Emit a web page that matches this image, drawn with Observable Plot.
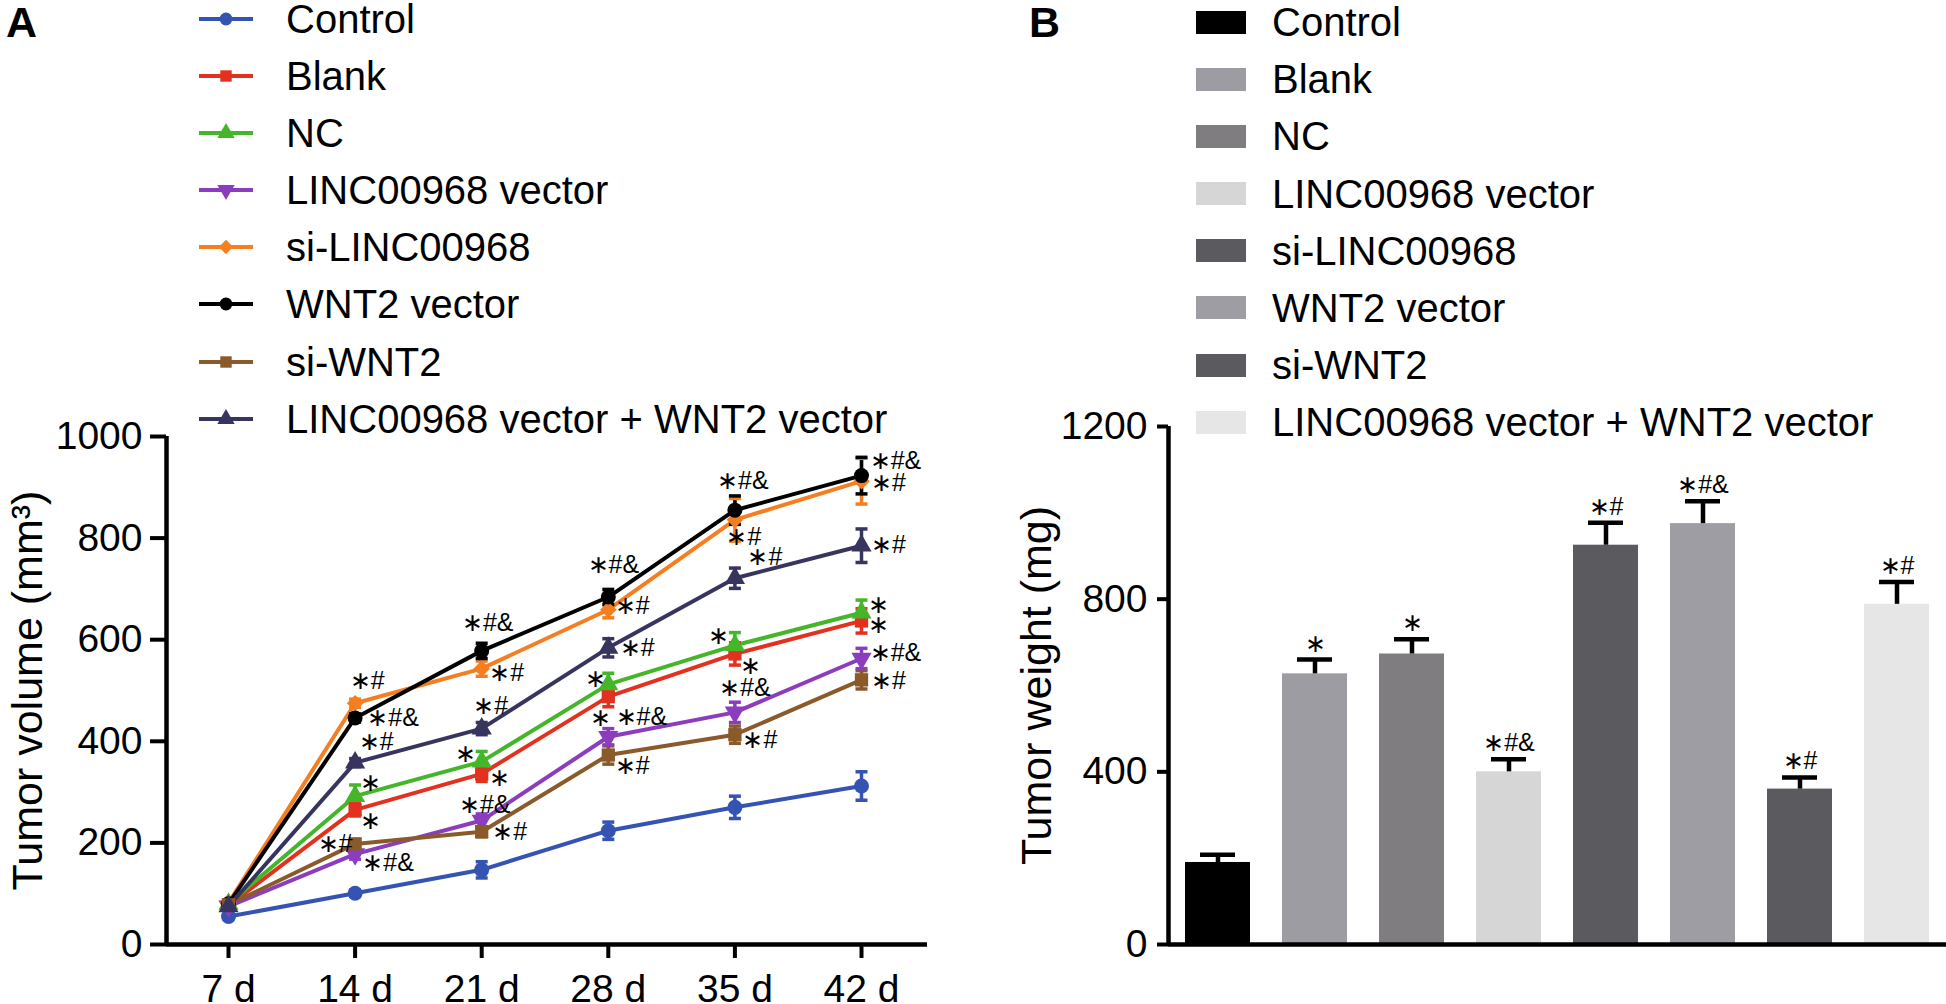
<!DOCTYPE html>
<html><head><meta charset="utf-8">
<script src="https://cdn.jsdelivr.net/npm/d3@7"></script>
<script src="https://cdn.jsdelivr.net/npm/@observablehq/plot@0.6"></script>
<style>
body{margin:0;background:#fff;}
#root{position:relative;width:1946px;height:1004px;overflow:hidden;font-family:"Liberation Sans",Arial,sans-serif;color:#000;}
.panel{position:absolute;top:0;}
.letter{position:absolute;font-weight:bold;font-size:43px;line-height:1;}
.legend{position:absolute;}
.row{display:flex;align-items:center;height:57.2px;font-size:40px;line-height:1;white-space:nowrap;}
.row svg{display:block;flex:none;}
</style></head><body><div id="root"></div>
<script>
// ---------- DATA ----------
const groups = ["Control","Blank","NC","LINC00968 vector","si-LINC00968","WNT2 vector","si-WNT2","LINC00968 vector + WNT2 vector"];
const days = [7,14,21,28,35,42];
const dayLabels = ["7 d","14 d","21 d","28 d","35 d","42 d"];

const volControl  = [55, 101, 147, 224, 270, 312];
const volBlank    = [77, 265, 336, 488, 572, 637];
const volNC       = [80, 292, 360, 512, 589, 653];
const volLincVec  = [75, 178, 244, 409, 457, 563];
const volSiLinc   = [82, 475, 543, 659, 836, 912];
const volWnt2     = [80, 446, 578, 684, 855, 923];
const volSiWnt2   = [78, 198, 222, 373, 413, 521];
const volLincWnt2 = [75, 358, 425, 584, 721, 785];

const errControl  = [5, 6, 16, 17, 22, 28];
const errBlank    = [6, 12, 15, 20, 22, 24];
const errNC       = [6, 22, 20, 22, 25, 25];
const errLincVec  = [5, 10, 13, 16, 20, 20];
const errSiLinc   = [6, 8, 15, 16, 42, 45];
const errWnt2     = [6, 8, 15, 15, 28, 36];
const errSiWnt2   = [5, 9, 10, 18, 17, 18];
const errLincWnt2 = [5, 8, 12, 18, 20, 33];

const weights   = [190, 627, 673, 400, 925, 975, 360, 788];
const weightErr = [18, 33, 34, 29, 52, 52, 27, 52];
const weightLabels = ["", "∗", "∗", "∗#&", "∗#", "∗#&", "∗#", "∗#"];

// annotations for panel A: [group index, day, label]
const annotationsA = [
  [4,14,"∗#"],[5,14,"∗#&"],[7,14,"∗#"],[2,14,"∗"],[1,14,"∗"],[6,14,"∗#"],[3,14,"∗#&"],
  [5,21,"∗#&"],[4,21,"∗#"],[7,21,"∗#"],[2,21,"∗"],[1,21,"∗"],[3,21,"∗#&"],[6,21,"∗#"],
  [5,28,"∗#&"],[4,28,"∗#"],[7,28,"∗#"],[2,28,"∗"],[1,28,"∗"],[3,28,"∗#&"],[6,28,"∗#"],
  [5,35,"∗#&"],[4,35,"∗#"],[7,35,"∗#"],[2,35,"∗"],[1,35,"∗"],[3,35,"∗#&"],[6,35,"∗#"],
  [5,42,"∗#&"],[4,42,"∗#"],[7,42,"∗#"],[2,42,"∗"],[1,42,"∗"],[3,42,"∗#&"],[6,42,"∗#"]
];
// pixel offsets of each annotation's centre from its point (layout)
const annotationOffsetsA = [
  [12,-22],[38,0],[21,-21],[15,-13],[15,11],[-20,0],[33,9],
  [6,-28],[25,4],[9,-23],[-16,-8],[18,4],[3,-16],[28,0],
  [5,-32],[24,-4],[29,0],[-13,-5],[-8,21],[33,-20],[24,11],
  [8,-29],[9,17],[30,-21],[-16,-9],[16,12],[10,-24],[25,5],
  [34,-15],[27,2],[27,-1],[17,-8],[17,4],[34,-5],[27,1]
];

// ---------- STYLES ----------
const lineColors = ["#3553b2","#e2311f","#45b62a","#8b3dbd","#f57f20","#000000","#8a5a2a","#37355f"];
const lineSymbols = ["circle","square","triangle","triangle","diamond2","circle","square","triangle"];
const symbolRotate = [0,0,0,180,0,0,0,0];
const barColors = ["#000000","#9d9ca2","#7f7d80","#d6d6d7","#5b5a5e","#9e9da3","#5b5a5e","#e6e6e7"];
const FONT = "Liberation Sans, Arial, sans-serif";

const volumes = [volControl, volBlank, volNC, volLincVec, volSiLinc, volWnt2, volSiWnt2, volLincWnt2];
const volErrs = [errControl, errBlank, errNC, errLincVec, errSiLinc, errWnt2, errSiWnt2, errLincWnt2];

const dataA = [];
groups.forEach((g, gi) => days.forEach((d, di) => dataA.push({group: g, gi, day: d, v: volumes[gi][di], e: volErrs[gi][di]})));
const dataB = groups.map((g, i) => ({group: g, w: weights[i], e: weightErr[i], label: weightLabels[i]}));

const hline = {draw(ctx, size){ const r = Math.sqrt(size / Math.PI); ctx.moveTo(-r, 0); ctx.lineTo(r, 0); }};

const root = document.getElementById("root");

// ---------- PANEL A ----------
const WA = 960, HA = 1004, mlA = 166, mrA = 33, mtA = 436, mbA = 60;
const xStep = (861 - 228) / 35; // px per day (layout)
const xDomA = [7 - (228 - mlA) / xStep, 42 + (WA - mrA - 861) / xStep];

const annMarks = annotationsA.map(([gi, day, label], k) => {
  const di = days.indexOf(day);
  return Plot.text([{day, v: volumes[gi][di], label}], {
    x: "day", y: "v", text: "label", dx: annotationOffsetsA[k][0], dy: annotationOffsetsA[k][1],
    fontSize: 25, fill: "#000", textAnchor: "middle", lineAnchor: "middle"
  });
});

const plotA = Plot.plot({
  width: WA, height: HA, marginTop: mtA, marginBottom: mbA, marginLeft: mlA, marginRight: mrA,
  style: {fontFamily: FONT, fontSize: "39px", color: "#000", background: "transparent", overflow: "visible"},
  x: {domain: xDomA, axis: null},
  y: {domain: [0, 1000], axis: null},
  color: {domain: groups, range: lineColors},
  symbol: {domain: groups, range: lineSymbols},
  marks: [
    Plot.line(dataA, {x: "day", y: "v", z: "group", stroke: "group", strokeWidth: 4}),
    Plot.ruleX(dataA, {x: "day", y1: d => d.v - d.e, y2: d => d.v + d.e, stroke: "group", strokeWidth: 3.5}),
    Plot.dot(dataA, {x: "day", y: d => d.v + d.e, symbol: hline, r: 6, stroke: "group", strokeWidth: 3.5}),
    Plot.dot(dataA, {x: "day", y: d => d.v - d.e, symbol: hline, r: 6, stroke: "group", strokeWidth: 3.5}),
    Plot.dot(dataA, {x: "day", y: "v", symbol: "group", fill: "group", r: 7.5, rotate: d => symbolRotate[d.gi]}),
    ...annMarks,
    Plot.ruleX([xDomA[0]], {y1: 0, y2: 1000, strokeWidth: 4.5, stroke: "#000"}),
    Plot.ruleY([0], {x1: xDomA[0], x2: xDomA[1], strokeWidth: 4.5, stroke: "#000"}),
    Plot.axisY({ticks: [0,200,400,600,800,1000], label: null, tickSize: 16, tickPadding: 8, strokeWidth: 4, tickFormat: d => String(d)}),
    Plot.axisX({ticks: days, label: null, tickSize: 14, tickPadding: 16, strokeWidth: 4, tickFormat: d => dayLabels[days.indexOf(d)]}),
    Plot.text(["Tumor volume (mm³)"], {frameAnchor: "left", rotate: -90, dx: 28 - mlA, fontSize: 43, textAnchor: "middle", lineAnchor: "middle", fill: "#000"})
  ]
});
plotA.classList.add("panel");
plotA.style.left = "0px";
root.appendChild(plotA);

// ---------- PANEL B ----------
const WB = 986, HB = 1004, mlB = 208, mrB = 0, mtB = 426, mbB = 60;
const plotB = Plot.plot({
  width: WB, height: HB, marginTop: mtB, marginBottom: mbB, marginLeft: mlB, marginRight: mrB,
  style: {fontFamily: FONT, fontSize: "39px", color: "#000", background: "transparent", overflow: "visible"},
  x: {domain: groups, paddingInner: 0.335, paddingOuter: 0.1675, axis: null},
  y: {domain: [0, 1200], axis: null},
  color: {domain: groups, range: barColors},
  marks: [
    Plot.barY(dataB, {x: "group", y: "w", fill: "group"}),
    Plot.ruleX(dataB, {x: "group", y1: "w", y2: d => d.w + d.e, strokeWidth: 4.5, stroke: "#000"}),
    Plot.tickY(dataB, {x: "group", y: d => d.w + d.e, strokeWidth: 4.5, stroke: "#000", insetLeft: 15, insetRight: 15}),
    Plot.text(dataB, {x: "group", y: d => d.w + d.e, text: "label", dy: -8, fontSize: 25, lineAnchor: "bottom", fill: "#000"}),
    Plot.ruleX([0], {x: null, y1: 0, y2: 1200, dx: -(WB - mlB - mrB) / 2, strokeWidth: 4.5, stroke: "#000"}),
    Plot.ruleY([0], {strokeWidth: 4.5, stroke: "#000"}),
    Plot.axisY({ticks: [0,400,800,1200], label: null, tickSize: 11, tickPadding: 10, strokeWidth: 4, tickFormat: d => String(d)}),
    Plot.text(["Tumor weight (mg)"], {frameAnchor: "left", rotate: -90, dx: 77 - mlB, fontSize: 43, textAnchor: "middle", lineAnchor: "middle", fill: "#000"})
  ]
});
plotB.classList.add("panel");
plotB.style.left = "960px";
root.appendChild(plotB);

// ---------- LETTERS ----------
for (const [txt, left] of [["A", 6], ["B", 1029]]) {
  const el = document.createElement("div");
  el.className = "letter"; el.textContent = txt;
  el.style.left = left + "px"; el.style.top = "1px";
  root.appendChild(el);
}

// ---------- LEGENDS ----------
const d3sym = {circle: d3.symbolCircle, square: d3.symbolSquare, triangle: d3.symbolTriangle, diamond2: d3.symbolDiamond2 || d3.symbolDiamond};
const legA = document.createElement("div");
legA.className = "legend"; legA.style.left = "199px"; legA.style.top = (18.5 - 28.6) + "px";
groups.forEach((g, i) => {
  const row = document.createElement("div"); row.className = "row";
  const svg = d3.create("svg").attr("width", 54).attr("height", 20).style("margin-right", "33px");
  svg.append("line").attr("x1", 0).attr("x2", 54).attr("y1", 10).attr("y2", 10).attr("stroke", lineColors[i]).attr("stroke-width", 4);
  svg.append("path").attr("d", d3.symbol(d3sym[lineSymbols[i]], 130)()).attr("fill", lineColors[i])
     .attr("transform", `translate(27,10) rotate(${symbolRotate[i]})`);
  row.appendChild(svg.node());
  const t = document.createElement("span"); t.textContent = g; row.appendChild(t);
  legA.appendChild(row);
});
root.appendChild(legA);

const legB = document.createElement("div");
legB.className = "legend"; legB.style.left = "1196px"; legB.style.top = (22 - 28.6) + "px";
groups.forEach((g, i) => {
  const row = document.createElement("div"); row.className = "row";
  const sw = document.createElement("div");
  sw.style.cssText = `width:50px;height:23px;background:${barColors[i]};margin-right:26px;flex:none;`;
  row.appendChild(sw);
  const t = document.createElement("span"); t.textContent = g; row.appendChild(t);
  legB.appendChild(row);
});
root.appendChild(legB);
</script></body></html>
